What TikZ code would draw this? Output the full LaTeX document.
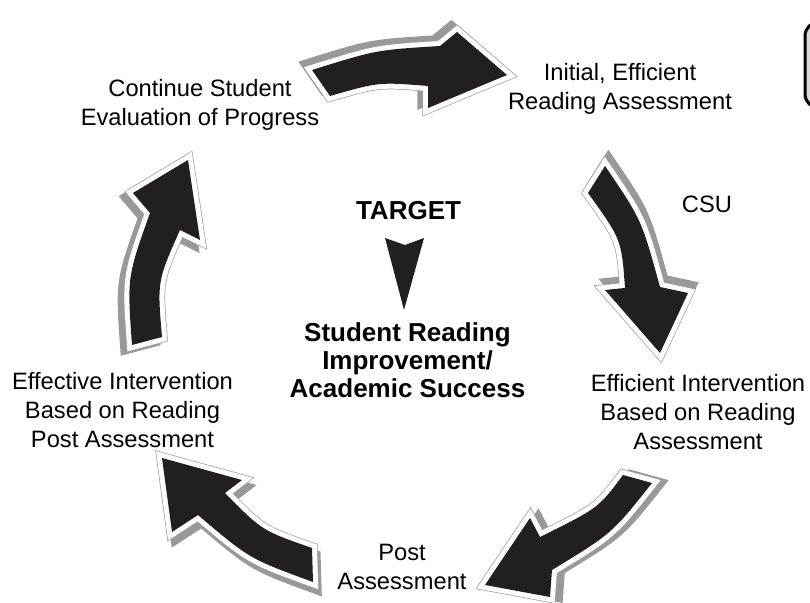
\documentclass[tikz,border=0pt]{standalone}
\usepackage{fontspec}
\setmainfont{Liberation Sans}
\definecolor{shadegray}{gray}{0.6}
\definecolor{rimgray}{gray}{0.62}
\definecolor{arrowblack}{HTML}{231F20}
\definecolor{boxgray}{gray}{0.85}
% one curved block arrow: grey extrusion, white rim, black face
\newcommand{\cyclearrow}[3]{%
  \path[arrowshade,shift={(#2,#3)}] #1;
  \path[arrowrimline] #1;
  \path[arrowrim] #1;
  \path[arrowface] #1;
}
\begin{document}
\begin{tikzpicture}[x=0.5pt,y=-0.5pt,
  arrowshade/.style={draw=shadegray,fill=shadegray,line width=5pt,line join=miter},
  arrowrimline/.style={draw=rimgray,line width=5.7pt,line join=miter},
  arrowrim/.style={draw=white,fill=white,line width=5pt,line join=miter},
  arrowface/.style={fill=arrowblack},
  lbl/.style={font=\fontsize{11.85pt}{14.5pt}\selectfont,align=center,inner sep=0pt,anchor=base},
  hdl/.style={font=\fontsize{13pt}{14pt}\selectfont\bfseries,align=center,inner sep=0pt,anchor=base}]
\useasboundingbox (0,0) rectangle (810,603);
\begin{scope}
\clip (0,0) rectangle (810,603);

% top arrow
\cyclearrow{(312,70) .. controls (376,50) .. (440,46) -- (457,32) -- (507,75) -- (428,108)
  -- (428,86) .. controls (379,82) .. (330,96) -- cycle}{-5.6}{-5.6}
% upper right arrow
\cyclearrow{(605,166) .. controls (641.5,219.5) .. (660,287) -- (688,293) -- (660,353) -- (605,290)
  -- (625,288) .. controls (621.5,239.5) .. (588,193) -- cycle}{3.5}{-7.2}
% lower right arrow
\cyclearrow{(652,483) .. controls (612,533.5) .. (552,570) -- (550,597) -- (485,585) -- (530,518)
  -- (540,537) .. controls (598.5,508) .. (623,475) -- cycle}{8}{0}
% lower left arrow
\cyclearrow{(313,582) .. controls (249.5,558.8) .. (198,515) -- (172,532) -- (162,458) -- (242,480)
  -- (225,493) .. controls (262,530.6) .. (312,548) -- cycle}{3.6}{7.2}
% left arrow
\cyclearrow{(132,345) .. controls (127.1,277.1) .. (150,213) -- (133,193) -- (188,160) -- (200,240)
  -- (180,230) .. controls (157.2,281.2) .. (162,337) -- cycle}{-6.7}{4.4}

% box at the right margin
\draw[line width=1.5pt,fill=boxgray,rounded corners=7pt] (805,22) rectangle (880,108);
\end{scope}

% stage labels (anchored at the baseline of the last line)
\node[lbl] (evaluate) at (200,126) {Continue Student\\Evaluation of Progress};
\node[lbl] (initial) at (620,110) {Initial, Efficient\\Reading Assessment};
\node[lbl] (csu) at (707,213) {CSU};
\node[lbl] (efficient) at (698,450) {Efficient Intervention\\Based on Reading\\Assessment};
\node[lbl] (post) at (402,590) {Post\\Assessment};
\node[lbl] (effective) at (122.5,448) {Effective Intervention\\Based on Reading\\Post Assessment};

% centre
\node[hdl] (target) at (408.5,220) {TARGET};
\node[hdl] (goal) at (407.5,398) {Student Reading\\Improvement/\\Academic Success};
\fill[arrowblack] (385,238) -- (405,245) -- (424,238) -- (404,310) -- cycle;
\end{tikzpicture}
\end{document}
